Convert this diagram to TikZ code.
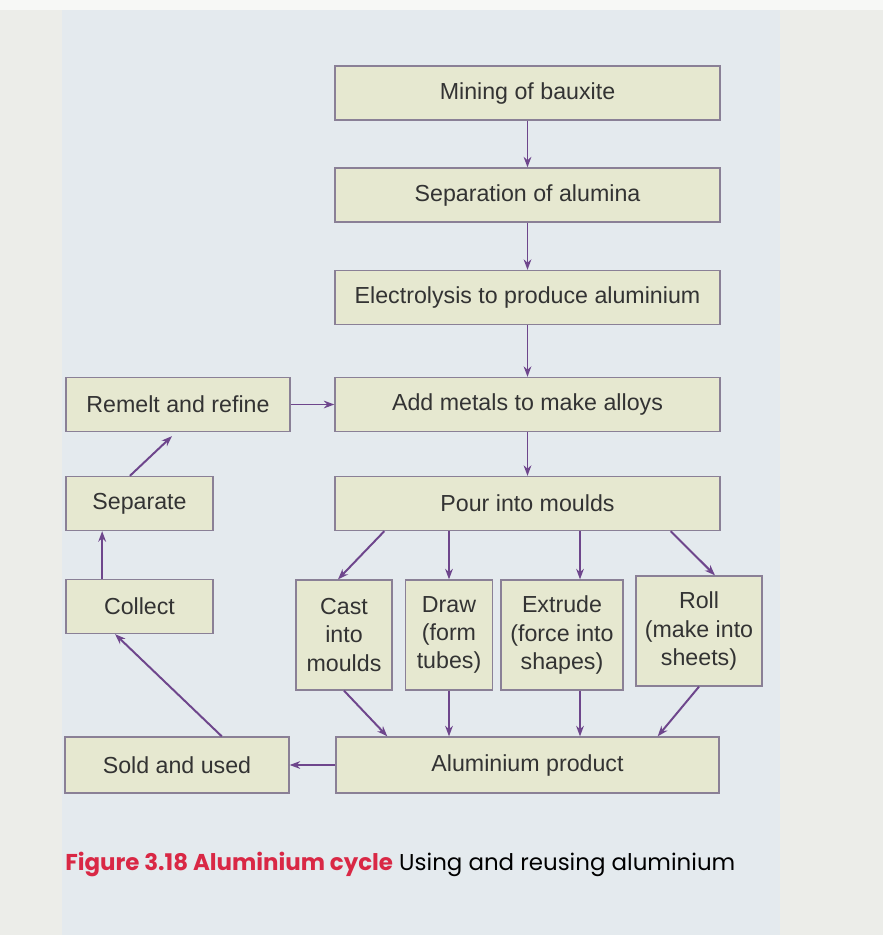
\documentclass[tikz,border=0pt]{standalone}
\usepackage{fontspec}
\setmainfont{Liberation Sans}
\newfontfamily\capfont{Poppins}
\usepackage{tikz}
\usetikzlibrary{arrows.meta,positioning}
\definecolor{pagegrey}{HTML}{ECEDE9}
\definecolor{panelblue}{HTML}{E4EAEE}
\definecolor{boxfill}{HTML}{E6E8D0}
\definecolor{boxline}{HTML}{8A8096}
\definecolor{flowpurple}{HTML}{6E468C}
\definecolor{figred}{HTML}{D92845}
\tikzset{stage/.style={draw=boxline,fill=boxfill,line width=0.9pt,inner sep=0pt,
    minimum width=#1,minimum height=1.35cm,align=center,
    font=\fontsize{16.5}{20}\selectfont,text=black!80}}
\tikzset{tallstage/.style={stage=#1,minimum height=2.75cm}}
\tikzset{flow/.style={draw=flowpurple,line width=1.4pt,-{Stealth[length=7.5pt,width=5.5pt]}}}

\begin{document}
\begin{tikzpicture}[x=0.025cm,y=-0.025cm]
\useasboundingbox (0,0) rectangle (883,935);
\fill[pagegrey] (0,0) rectangle (883,935);
\fill[white!60!pagegrey] (0,0) rectangle (883,10);
\fill[panelblue] (62,10) rectangle (780,935);
% main column
\node (mine) [stage=9.625cm] at (527.5,93) {Mining of bauxite};
\node (sep) [stage=9.625cm] at (527.5,195) {Separation of alumina};
\node (elec) [stage=9.625cm] at (527.5,297.5) {Electrolysis to produce aluminium};
\node (alloy) [stage=9.625cm] at (527.5,404.5) {Add metals to make alloys};
\node (pour) [stage=9.625cm] at (527.5,503.5) {Pour into moulds};
% shaping
\node (cast) [tallstage=2.4cm] at (344,635) {Cast\\into\\moulds};
\node (draw) [tallstage=2.175cm] at (449,635) {Draw\\(form\\tubes)};
\node (extr) [tallstage=3.05cm] at (562,635) {Extrude\\(force into\\shapes)};
\node (roll) [tallstage=3.15cm] at (699,631) {Roll\\(make into\\sheets)};
\node (prod) [stage=9.575cm,minimum height=1.4cm] at (527.5,765) {Aluminium product};
% recycling
\node (sold) [stage=5.6cm,minimum height=1.4cm] at (177,765) {Sold and used};
\node (coll) [stage=3.675cm] at (139.5,606.5) {Collect};
\node (sepr) [stage=3.675cm] at (139.5,503.5) {Separate};
\node (remelt) [stage=5.6cm] at (178,404.5) {Remelt and refine};
%
\path (mine) edge[flow] (sep) (sep) edge[flow] (elec) (elec) edge[flow] (alloy) (alloy) edge[flow] (pour);
\path ([xshift=1.25cm]pour.south west) edge[flow] ([xshift=-0.15cm]cast.north);
\path (pour.south -| draw.north) edge[flow] (draw.north);
\path ([xshift=0.45cm]extr.north |- pour.south) edge[flow] ([xshift=0.45cm]extr.north);
\path ([xshift=-1.25cm]pour.south east) edge[flow] ([xshift=0.4cm]roll.north);
\path (cast.south) edge[flow] ([xshift=1.3cm]prod.north west);
\path (draw.south) edge[flow] (draw.south |- prod.north);
\path ([xshift=0.45cm]extr.south) edge[flow] ([xshift=0.45cm]extr.south |- prod.north);
\path (roll.south) edge[flow] ([xshift=-1.55cm]prod.north east);
\path (prod) edge[flow] (sold);
\path ([xshift=1.12cm]sold.north) edge[flow] ([xshift=-0.61cm]coll.south);
\path ([xshift=0.92cm]coll.north west) edge[flow] ([xshift=0.92cm]sepr.south west);
\path ([xshift=-0.24cm]sepr.north) edge[flow] ([xshift=-0.15cm,yshift=-0.1cm]remelt.south);
\path (remelt) edge[flow] (alloy);
% caption
\node (cap) [anchor=base west,inner sep=0pt,font=\capfont\fontsize{16.3}{19}\selectfont]
  at (65,870) {\textcolor{figred}{\bfseries Figure 3.18 Aluminium cycle} Using and reusing aluminium};
\end{tikzpicture}
\end{document}
